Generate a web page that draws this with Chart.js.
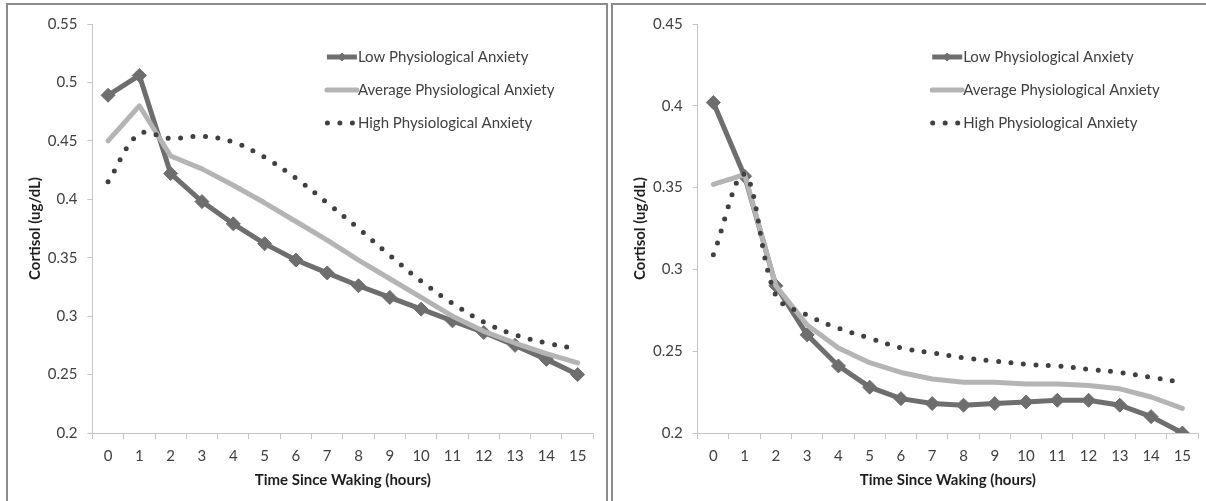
<!DOCTYPE html>
<html>
<head>
<meta charset="utf-8">
<script src="https://cdn.jsdelivr.net/npm/chart.js@4"></script>
<style>
  html, body { margin: 0; padding: 0; background: #fff; width: 1206px; height: 501px; overflow: hidden; }
  .frame { position: absolute; top: 3px; height: 520px; border: 2px solid #8c8c8c; border-bottom: none; box-sizing: border-box; }
  #frameL { left: 6px; width: 602px; }
  #frameR { left: 611px; width: 620px; }
  canvas { position: absolute; }
  #wrapL { position: absolute; left: 8px; top: 5px; width: 598px; height: 496px; }
  #wrapR { position: absolute; left: 613px; top: 5px; width: 593px; height: 496px; }
</style>
</head>
<body>
<div class="frame" id="frameL"></div>
<div class="frame" id="frameR"></div>
<div id="wrapL"><canvas id="left"></canvas></div>
<div id="wrapR"><canvas id="right"></canvas></div>
<script>
// ---- data ----
const hours = ['0','1','2','3','4','5','6','7','8','9','10','11','12','13','14','15'];
const seriesNames = ['Low Physiological Anxiety', 'Average Physiological Anxiety', 'High Physiological Anxiety'];

const leftLow  = [0.489,0.506,0.422,0.398,0.379,0.362,0.348,0.337,0.326,0.316,0.306,0.296,0.286,0.275,0.263,0.250];
const leftAvg  = [0.450,0.480,0.437,0.426,0.412,0.397,0.381,0.365,0.348,0.332,0.316,0.300,0.287,0.277,0.268,0.260];
const leftHigh = [0.415,0.456,0.452,0.454,0.449,0.436,0.418,0.397,0.375,0.352,0.330,0.311,0.295,0.284,0.277,0.272];

const rightLow  = [0.402,0.357,0.290,0.260,0.241,0.228,0.221,0.218,0.217,0.218,0.219,0.220,0.220,0.217,0.210,0.200];
const rightAvg  = [0.352,0.358,0.290,0.266,0.252,0.243,0.237,0.233,0.231,0.231,0.230,0.230,0.229,0.227,0.222,0.215];
const rightHigh = [0.309,0.358,0.284,0.272,0.264,0.258,0.252,0.249,0.246,0.244,0.242,0.241,0.239,0.237,0.234,0.231];

const leftYRange  = [0.2, 0.55];
const rightYRange = [0.2, 0.45];
const yStep = 0.05;

const xTitle = 'Time Since Waking (hours)';
const yTitle = 'Cortisol (ug/dL)';

// ---- styles ----
const FONT = 'Lato, "Open Sans", sans-serif';
const FS = 15;
const cLow = '#6e6e6e', cAvg = '#b4b4b4', cHigh = '#404040', cAxis = '#c4c4c4', cText = '#404040';

const insideLegend = {
  id: 'insideLegend',
  afterDraw(chart, args, o) {
    const ctx = chart.ctx, a = chart.chartArea;
    const x0 = a.left + o.dx, y0 = a.top + o.dy;
    chart.data.datasets.forEach((ds, i) => {
      const y = y0 + i * o.rowGap;
      ctx.save();
      ctx.strokeStyle = ds.borderColor;
      ctx.lineWidth = ds.borderWidth;
      ctx.lineCap = ds.borderCapStyle || 'butt';
      ctx.setLineDash(ds.borderDash || []);
      ctx.beginPath();
      ctx.moveTo(x0 + (ds.borderDash ? 0.5 : 0), y);
      ctx.lineTo(x0 + o.sampleW, y);
      ctx.stroke();
      ctx.setLineDash([]);
      if (ds.pointRadius > 0) {
        ctx.fillStyle = ds.pointBackgroundColor;
        ctx.strokeStyle = ds.pointBorderColor;
        ctx.lineWidth = 1;
        Chart.helpers.drawPoint(ctx, { pointStyle: ds.pointStyle, radius: o.markerR, rotation: 0, borderWidth: 1 }, x0 + o.sampleW / 2, y);
      }
      ctx.fillStyle = cText;
      ctx.font = FS + 'px ' + FONT;
      ctx.textBaseline = 'middle';
      ctx.textAlign = 'left';
      ctx.fillText(ds.label, x0 + o.sampleW + o.gap, y);
      ctx.restore();
    });
  }
};

function makeDatasets(low, avg, high) {
  return [
    { label: seriesNames[0], data: low, borderColor: cLow, backgroundColor: cLow, borderWidth: 5,
      pointStyle: 'rectRot', pointRadius: 7, pointBackgroundColor: cLow, pointBorderColor: cLow, pointBorderWidth: 1,
      tension: 0, order: 3 },
    { label: seriesNames[1], data: avg, borderColor: cAvg, backgroundColor: cAvg, borderWidth: 5,
      borderCapStyle: 'round', borderJoinStyle: 'round', pointRadius: 0, tension: 0, order: 2 },
    { label: seriesNames[2], data: high, borderColor: cHigh, backgroundColor: cHigh, borderWidth: 5,
      borderDash: [0, 12.5], borderCapStyle: 'round', pointRadius: 0, tension: 0.35, order: 1 }
  ];
}

function makeChart(id, low, avg, high, yRange, pad, yWidth) {
  return new Chart(document.getElementById(id), {
    type: 'line',
    data: { labels: hours, datasets: makeDatasets(low, avg, high) },
    plugins: [insideLegend],
    options: {
      responsive: true,
      maintainAspectRatio: false,
      animation: false,
      events: [],
      layout: { padding: pad },
      plugins: {
        legend: { display: false },
        tooltip: { enabled: false },
        insideLegend: { dx: 234.5, dy: 33, rowGap: 33, sampleW: 30, gap: 1, markerR: 4 }
      },
      scales: {
        x: {
          offset: true,
          grid: { offset: true, drawOnChartArea: false, drawTicks: true, tickLength: 6, color: cAxis },
          border: { color: cAxis, width: 1 },
          ticks: { color: cText, font: { family: FONT, size: FS }, padding: 8, maxRotation: 0, autoSkip: false },
          title: { display: true, text: xTitle, color: '#1e1e1e', font: { family: FONT, size: FS, weight: 'bold' }, padding: { top: 0, bottom: 12 } },
          afterFit(s) { s.height = 68; }
        },
        y: {
          min: yRange[0], max: yRange[1],
          grid: { drawOnChartArea: false, drawTicks: true, tickLength: 5, color: cAxis },
          border: { color: cAxis, width: 1 },
          ticks: { stepSize: yStep, color: cText, font: { family: FONT, size: FS }, padding: 10,
                   callback: v => String(+Number(v).toFixed(2)) },
          title: { display: true, text: yTitle, color: '#1e1e1e', font: { family: FONT, size: FS, weight: 'bold' }, padding: { top: 18, bottom: 18 } },
          afterFit(s) { s.width = yWidth; }
        }
      }
    }
  });
}

makeChart('left', leftLow, leftAvg, leftHigh, leftYRange, { left: 0, right: 12.7, top: 16, bottom: 0 }, 84.4);
makeChart('right', rightLow, rightAvg, rightHigh, rightYRange, { left: 0, right: 6.5, top: 15.4, bottom: 0 }, 84.7);
</script>
</body>
</html>
